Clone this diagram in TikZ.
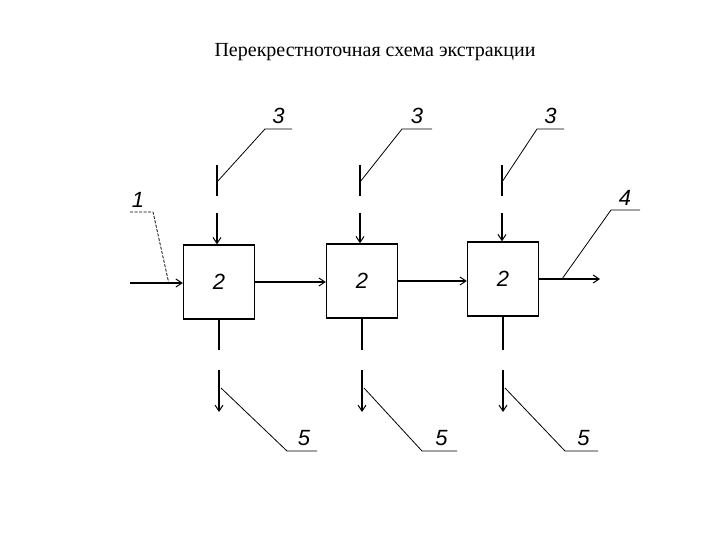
\documentclass[tikz,border=0pt]{standalone}
\usepackage{fontspec}
\setmainfont{Liberation Serif}
\newfontfamily\handfont{Liberation Sans}
\usetikzlibrary{arrows.meta,calc}
\begin{document}
\begin{tikzpicture}[x=1pt,y=-1pt,
  stage/.style={draw, line width=1.4pt, minimum width=71pt, minimum height=74pt, inner sep=0pt, font=\handfont\itshape\fontsize{22}{22}\selectfont},
  flow/.style={line width=1.2pt, -{Straight Barb[length=6pt,width=8pt,line width=1pt]}},
  pipe/.style={line width=1.2pt},
  leader/.style={line width=0.8pt},
  num/.style={font=\handfont\itshape\fontsize{22}{22}\selectfont, inner sep=0pt}]
\useasboundingbox (0,0) rectangle (720,540);
\node[font=\fontsize{20}{20}\selectfont] (title) at (375,52) {Перекрестноточная схема экстракции};

\node[stage] (b1) at (219,282) {2};
\node[stage] (b2) at (362,281) {2};
\node[stage] (b3) at (503,279) {2};

% horizontal flows
\coordinate (in) at (130,283);
\coordinate (out) at (600,279);
\draw[flow] (in) -- (in -| b1.west);
\draw[flow] (b1.east |- 0,282) -- (b2.west |- 0,282);
\draw[flow] (b2.east |- 0,281) -- (b3.west |- 0,281);
\draw[flow] (b3.east |- 0,279) -- (out);

% top feeds
\foreach \i/\x/\lx/\hx in {1/217/265/292, 2/360/402/432, 3/502/537/564}{
  \coordinate (t\i a) at (\x,165);
  \coordinate (t\i b) at (\x,196);
  \coordinate (t\i c) at (\x,213);
  \coordinate (t\i k) at (\lx,129);
  \coordinate (t\i h) at (\hx,129);
  \draw[pipe] (t\i a) -- (t\i b);
  \draw[flow] (t\i c) -- (t\i c |- b\i.north);
  \draw[leader] (\x,182) -- (t\i k) -- (t\i h);
  \node[num] (l3\i) at ($(t\i k)!0.5!(t\i h)+(0,-13)$) {3};
}

% bottom outlets
\foreach \i/\x/\lx/\hx in {1/219/287/317, 2/361/422/457, 3/505/565/598}{
  \coordinate (u\i a) at (\x,350);
  \coordinate (u\i c) at (\x,370);
  \coordinate (u\i d) at (\x,412);
  \coordinate (u\i k) at (\lx,451);
  \coordinate (u\i h) at (\hx,451);
  \draw[pipe] (b\i.south) -- (b\i.south |- u\i a);
  \draw[flow] (b\i.south |- u\i c) -- (b\i.south |- u\i d);
  \draw[leader] ($(b\i.south |- u\i c)+(2,18)$) -- (u\i k) -- (u\i h);
  \node[num] (l5\i) at ($(u\i k)!0.5!(u\i h)+(2,-13)$) {5};
}

% label 1
\coordinate (l1a) at (130,212);
\coordinate (l1b) at (153,212);
\coordinate (l1c) at (169,284);
\draw[leader, dash pattern=on 3pt off 1.5pt] (l1a) -- (l1b) -- (l1c);
\node[num] (l1) at (138,200) {1};

% label 4
\coordinate (l4a) at (562,279);
\coordinate (l4b) at (611,210);
\coordinate (l4c) at (640,210);
\draw[leader] (l4a) -- (l4b) -- (l4c);
\node[num] (l4) at (625,198) {4};
\end{tikzpicture}
\end{document}
